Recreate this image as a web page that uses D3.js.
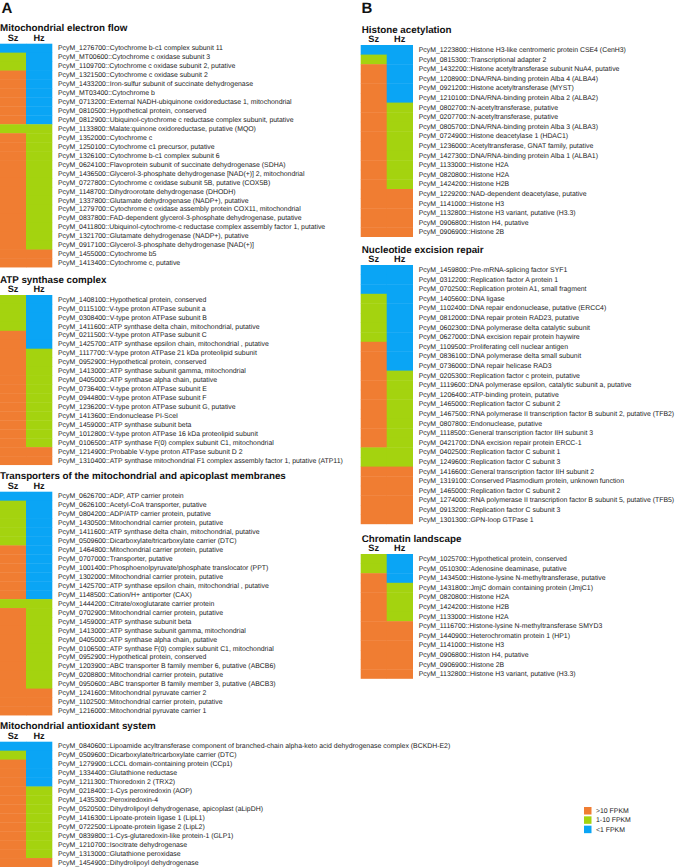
<!DOCTYPE html>
<html>
<head>
<meta charset="utf-8">
<script src="https://cdn.jsdelivr.net/npm/d3@7"></script>
<style>
html, body { margin: 0; padding: 0; background: #fff; }
svg { display: block; font-family: Arial, "Liberation Sans", Helvetica, sans-serif; text-rendering: geometricPrecision; }
</style>
</head>
<body>
<svg id="chart" width="677" height="868"></svg>
<script>
// Expression levels: 2 = >10 FPKM, 1 = 1-10 FPKM, 0 = <1 FPKM
var samples = ['Sz', 'Hz'];
var levelLabels = ['>10 FPKM', '1-10 FPKM', '<1 FPKM'];
var legendLevels = [2, 1, 0];

// --- A: Mitochondrial electron flow ---
var elecGenes = [
    'PcyM_1276700::Cytochrome b-c1 complex subunit 11',
    'PcyM_MT00600::Cytochrome c oxidase subunit 3',
    'PcyM_1109700::Cytochrome c oxidase subunit 2, putative',
    'PcyM_1321500::Cytochrome c oxidase subunit 2',
    'PcyM_1433200::Iron-sulfur subunit of succinate dehydrogenase',
    'PcyM_MT03400::Cytochrome b',
    'PcyM_0713200::External NADH-ubiquinone oxidoreductase 1, mitochondrial',
    'PcyM_0810500::Hypothetical protein, conserved',
    'PcyM_0812900::Ubiquinol-cytochrome c reductase complex subunit, putative',
    'PcyM_1133800::Malate:quinone oxidoreductase, putative (MQO)',
    'PcyM_1352000::Cytochrome c',
    'PcyM_1250100::Cytochrome c1 precursor, putative',
    'PcyM_1326100::Cytochrome b-c1 complex subunit 6',
    'PcyM_0624100::Flavoprotein subunit of succinate dehydrogenase (SDHA)',
    'PcyM_1436500::Glycerol-3-phosphate dehydrogenase [NAD(+)] 2, mitochondrial',
    'PcyM_0727800::Cytochrome c oxidase subunit 5B, putative (COX5B)',
    'PcyM_1148700::Dihydroorotate dehydrogenase (DHODH)',
    'PcyM_1337800::Glutamate dehydrogenase (NADP+), putative',
    'PcyM_1279700::Cytochrome c oxidase assembly protein COX11, mitochondrial',
    'PcyM_0837800::FAD-dependent glycerol-3-phosphate dehydrogenase, putative',
    'PcyM_0411800::Ubiquinol-cytochrome-c reductase complex assembly factor 1, putative',
    'PcyM_1321700::Glutamate dehydrogenase (NADP+), putative',
    'PcyM_0917100::Glycerol-3-phosphate dehydrogenase [NAD(+)]',
    'PcyM_1455000::Cytochrome b5',
    'PcyM_1413400::Cytochrome c, putative'
];
var elecSz = [0,1,1,2,2,2,2,2,2,1,2,2,2,2,2,2,2,2,2,2,2,2,2,2,2];
var elecHz = [0,0,0,0,0,0,0,0,0,1,1,1,1,1,1,1,1,1,1,1,1,1,1,2,2];

// --- A: ATP synthase complex ---
var atpGenes = [
    'PcyM_1408100::Hypothetical protein, conserved',
    'PcyM_0115100::V-type proton ATPase subunit a',
    'PcyM_0308400::V-type proton ATPase subunit B',
    'PcyM_1411600::ATP synthase delta chain, mitochondrial, putative',
    'PcyM_0211500::V-type proton ATPase subunit C',
    'PcyM_1425700::ATP synthase epsilon chain, mitochondrial , putative',
    'PcyM_1117700::V-type proton ATPase 21 kDa proteolipid subunit',
    'PcyM_0952900::Hypothetical protein, conserved',
    'PcyM_1413000::ATP synthase subunit gamma, mitochondrial',
    'PcyM_0405000::ATP synthase alpha chain, putative',
    'PcyM_0736400::V-type proton ATPase subunit E',
    'PcyM_0944800::V-type proton ATPase subunit F',
    'PcyM_1236200::V-type proton ATPase subunit G, putative',
    'PcyM_1413600::Endonuclease PI-SceI',
    'PcyM_1459000::ATP synthase subunit beta',
    'PcyM_1012800::V-type proton ATPase 16 kDa proteolipid subunit',
    'PcyM_0106500::ATP synthase F(0) complex subunit C1, mitochondrial',
    'PcyM_1214900::Probable V-type proton ATPase subunit D 2',
    'PcyM_1310400::ATP synthase mitochondrial F1 complex assembly factor 1, putative (ATP11)'
];
var atpSz = [1,1,1,1,2,2,2,2,2,2,2,2,2,2,2,2,2,2,2];
var atpHz = [0,0,0,0,0,0,1,1,1,1,1,1,1,1,1,1,1,2,2];

// --- A: Transporters ---
var trGenes = [
    'PcyM_0626700::ADP, ATP carrier protein',
    'PcyM_0626100::Acetyl-CoA transporter, putative',
    'PcyM_0804200::ADP/ATP carrier protein, putative',
    'PcyM_1430500::Mitochondrial carrier protein, putative',
    'PcyM_1411600::ATP synthase delta chain, mitochondrial, putative',
    'PcyM_0509600::Dicarboxylate/tricarboxylate carrier (DTC)',
    'PcyM_1464800::Mitochondrial carrier protein, putative',
    'PcyM_0707000::Transporter, putative',
    'PcyM_1001400::Phosphoenolpyruvate/phosphate translocator (PPT)',
    'PcyM_1302000::Mitochondrial carrier protein, putative',
    'PcyM_1425700::ATP synthase epsilon chain, mitochondrial , putative',
    'PcyM_1148500::Cation/H+ antiporter (CAX)',
    'PcyM_1444200::Citrate/oxoglutarate carrier protein',
    'PcyM_0702900::Mitochondrial carrier protein, putative',
    'PcyM_1459000::ATP synthase subunit beta',
    'PcyM_1413000::ATP synthase subunit gamma, mitochondrial',
    'PcyM_0405000::ATP synthase alpha chain, putative',
    'PcyM_0106500::ATP synthase F(0) complex subunit C1, mitochondrial',
    'PcyM_0952900::Hypothetical protein, conserved',
    'PcyM_1203900::ABC transporter B family member 6, putative (ABCB6)',
    'PcyM_0208800::Mitochondrial carrier protein, putative',
    'PcyM_0950600::ABC transporter B family member 3, putative (ABCB3)',
    'PcyM_1241600::Mitochondrial pyruvate carrier 2',
    'PcyM_1102500::Mitochondrial carrier protein, putative',
    'PcyM_1216000::Mitochondrial pyruvate carrier 1'
];
var trSz = [0,1,1,1,1,1,2,2,2,2,2,2,1,2,2,2,2,2,2,2,2,2,2,2,2];
var trHz = [0,0,0,0,0,0,0,0,0,0,0,0,1,1,1,1,1,1,1,1,1,1,2,2,2];

// --- A: Mitochondrial antioxidant system ---
var aoGenes = [
    'PcyM_0840600::Lipoamide acyltransferase component of branched-chain alpha-keto acid dehydrogenase complex (BCKDH-E2)',
    'PcyM_0509600::Dicarboxylate/tricarboxylate carrier (DTC)',
    'PcyM_1279900::LCCL domain-containing protein (CCp1)',
    'PcyM_1334400::Glutathione reductase',
    'PcyM_1211300::Thioredoxin 2 (TRX2)',
    'PcyM_0218400::1-Cys peroxiredoxin (AOP)',
    'PcyM_1435300::Peroxiredoxin-4',
    'PcyM_0520500::Dihydrolipoyl dehydrogenase, apicoplast (aLipDH)',
    'PcyM_1416300::Lipoate-protein ligase 1 (LipL1)',
    'PcyM_0722500::Lipoate-protein ligase 2 (LipL2)',
    'PcyM_0839800::1-Cys-glutaredoxin-like protein-1 (GLP1)',
    'PcyM_1210700::Isocitrate dehydrogenase',
    'PcyM_1313000::Glutathione peroxidase',
    'PcyM_1454900::Dihydrolipoyl dehydrogenase'
];
var aoSz = [0,1,2,2,2,2,2,2,2,2,2,2,2,2];
var aoHz = [0,0,0,0,0,1,1,1,1,1,1,1,1,2];

// --- B: Histone acetylation ---
var haGenes = [
    'PcyM_1223800::Histone H3-like centromeric protein CSE4 (CenH3)',
    'PcyM_0815300::Transcriptional adapter 2',
    'PcyM_1432200::Histone acetyltransferase subunit NuA4, putative',
    'PcyM_1208900::DNA/RNA-binding protein Alba 4 (ALBA4)',
    'PcyM_0921200::Histone acetyltransferase (MYST)',
    'PcyM_1210100::DNA/RNA-binding protein Alba 2 (ALBA2)',
    'PcyM_0802700::N-acetyltransferase, putative',
    'PcyM_0207700::N-acetyltransferase, putative',
    'PcyM_0805700::DNA/RNA-binding protein Alba 3 (ALBA3)',
    'PcyM_0724900::Histone deacetylase 1 (HDAC1)',
    'PcyM_1236000::Acetyltransferase, GNAT family, putative',
    'PcyM_1427300::DNA/RNA-binding protein Alba 1 (ALBA1)',
    'PcyM_1133000::Histone H2A',
    'PcyM_0820800::Histone H2A',
    'PcyM_1424200::Histone H2B',
    'PcyM_1229200::NAD-dependent deacetylase, putative',
    'PcyM_1141000::Histone H3',
    'PcyM_1132800::Histone H3 variant, putative (H3.3)',
    'PcyM_0906800::Histon H4, putative',
    'PcyM_0906900::Histone 2B'
];
var haSz = [0,1,2,2,2,2,2,2,2,2,2,2,2,2,2,2,2,2,2,2];
var haHz = [0,0,0,0,0,0,1,1,1,1,1,1,1,1,1,2,2,2,2,2];

// --- B: Nucleotide excision repair ---
var nerGenes = [
    'PcyM_1459800::Pre-mRNA-splicing factor SYF1',
    'PcyM_0312200::Replication factor A protein 1',
    'PcyM_0702500::Replication protein A1, small fragment',
    'PcyM_1405600::DNA ligase',
    'PcyM_1102400::DNA repair endonuclease, putative (ERCC4)',
    'PcyM_0812000::DNA repair protein RAD23, putative',
    'PcyM_0602300::DNA polymerase delta catalytic subunit',
    'PcyM_0627000::DNA excision repair protein haywire',
    'PcyM_1109500::Proliferating cell nuclear antigen',
    'PcyM_0836100::DNA polymerase delta small subunit',
    'PcyM_0736000::DNA repair helicase RAD3',
    'PcyM_0205300::Replication factor c protein, putative',
    'PcyM_1119600::DNA polymerase epsilon, catalytic subunit a, putative',
    'PcyM_1206400::ATP-binding protein, putative',
    'PcyM_1465000::Replication factor C subunit 2',
    'PcyM_1467500::RNA polymerase II transcription factor B subunit 2, putative (TFB2)',
    'PcyM_0807800::Endonuclease, putative',
    'PcyM_1118500::General transcription factor IIH subunit 3',
    'PcyM_0421700::DNA excision repair protein ERCC-1',
    'PcyM_0402500::Replication factor C subunit 1',
    'PcyM_1249600::Replication factor C subunit 3',
    'PcyM_1416600::General transcription factor IIH subunit 2',
    'PcyM_1319100::Conserved Plasmodium protein, unknown function',
    'PcyM_1465000::Replication factor C subunit 2',
    'PcyM_1274000::RNA polymerase II transcription factor B subunit 5, putative (TFB5)',
    'PcyM_0913200::Replication factor C subunit 3',
    'PcyM_1301300::GPN-loop GTPase 1'
];
var nerSz = [0,0,0,1,1,1,1,1,2,2,2,2,2,2,2,2,2,2,2,1,1,2,2,2,2,2,2];
var nerHz = [0,0,0,0,0,0,0,0,0,0,0,1,1,1,1,1,1,1,1,1,1,2,2,2,2,2,2];

// --- B: Chromatin landscape ---
var chGenes = [
    'PcyM_1025700::Hypothetical protein, conserved',
    'PcyM_0510300::Adenosine deaminase, putative',
    'PcyM_1434500::Histone-lysine N-methyltransferase, putative',
    'PcyM_1431800::JmjC domain containing protein (JmjC1)',
    'PcyM_0820800::Histone H2A',
    'PcyM_1424200::Histone H2B',
    'PcyM_1133000::Histone H2A',
    'PcyM_1116700::Histone-lysine N-methyltransferase SMYD3',
    'PcyM_1440900::Heterochromatin protein 1 (HP1)',
    'PcyM_1141000::Histone H3',
    'PcyM_0906800::Histon H4, putative',
    'PcyM_0906900::Histone 2B',
    'PcyM_1132800::Histone H3 variant, putative (H3.3)'
];
var chSz = [1,1,2,2,2,2,2,2,2,2,2,2,2];
var chHz = [0,0,0,1,1,1,1,2,2,2,2,2,2];

// layout of the blocks (left panel rows are a bit tighter than right panel)
var blocks = [
    { title: 'Mitochondrial electron flow', genes: elecGenes, sz: elecSz, hz: elecHz, x: 0, top: 43.7, step: 8.95 },
    { title: 'ATP synthase complex', genes: atpGenes, sz: atpSz, hz: atpHz, x: 0, top: 295, step: 8.95 },
    { title: 'Transporters of the mitochondrial and apicoplast membranes', genes: trGenes, sz: trSz, hz: trHz, x: 0, top: 491.7, step: 8.95 },
    { title: 'Mitochondrial antioxidant system', genes: aoGenes, sz: aoSz, hz: aoHz, x: 0, top: 741.7, step: 8.95 },
    { title: 'Histone acetylation', genes: haGenes, sz: haSz, hz: haHz, x: 360.7, top: 45, step: 9.6 },
    { title: 'Nucleotide excision repair', genes: nerGenes, sz: nerSz, hz: nerHz, x: 360.7, top: 265, step: 9.6 },
    { title: 'Chromatin landscape', genes: chGenes, sz: chSz, hz: chHz, x: 360.7, top: 554, step: 9.6 }
];

var color = d3.scaleOrdinal()
    .domain([2, 1, 0])
    .range(['#F07D32', '#A4D30F', '#0AA5F5']);

var svg = d3.select('#chart');

function drawBlock(b) {
    var n = b.genes.length;
    var g = svg.append('g').attr('transform', 'translate(' + b.x + ',' + b.top + ')');

    var x = d3.scaleBand().domain(samples).range([0, 52]);
    // genes may repeat (same id twice), so index the rows
    var y = d3.scaleBand().domain(d3.range(n)).range([0, n * b.step]);

    var cells = [];
    b.genes.forEach(function (name, i) {
        cells.push({ s: 'Sz', i: i, v: b.sz[i] });
        cells.push({ s: 'Hz', i: i, v: b.hz[i] });
    });

    g.append('g').selectAll('rect')
        .data(cells)
        .join('rect')
        .attr('x', function (d) { return x(d.s); })
        .attr('y', function (d) { return y(d.i); })
        .attr('width', x.bandwidth() + 0.3)
        .attr('height', function (d) { return y.bandwidth() + (d.i < n - 1 ? 0.4 : 0); })
        .attr('fill', function (d) { return color(d.v); });

    // gene labels
    var ax = g.append('g')
        .attr('transform', 'translate(52,0)')
        .call(d3.axisRight(y).tickSize(0).tickPadding(6)
            .tickFormat(function (i) { return b.genes[i]; }));
    ax.select('.domain').remove();
    ax.selectAll('text')
        .attr('font-size', '6.9px')
        .attr('font-family', 'Arial, "Liberation Sans", sans-serif')
        .attr('fill', '#1a1a1a');

    // column header
    var hx = g.append('g')
        .call(d3.axisTop(x).tickSize(0).tickPadding(3));
    hx.select('.domain').remove();
    hx.selectAll('text')
        .attr('font-size', '9.2px')
        .attr('font-weight', 'bold')
        .attr('font-family', 'Arial, "Liberation Sans", sans-serif')
        .attr('fill', '#111');

    g.append('text')
        .attr('x', b.x > 0 ? 1 : 0)
        .attr('y', -12.3)
        .attr('font-size', '9.8px')
        .attr('font-weight', 'bold')
        .attr('fill', '#111')
        .text(b.title);
}

blocks.forEach(drawBlock);

// panel letters
svg.append('text').attr('x', 1.5).attr('y', 13).attr('font-size', '15px')
    .attr('font-weight', 'bold').attr('fill', '#111').text('A');
svg.append('text').attr('x', 361.5).attr('y', 13).attr('font-size', '15px')
    .attr('font-weight', 'bold').attr('fill', '#111').text('B');

// legend
var ly = d3.scaleBand().domain(legendLevels).range([806, 834]);
var legend = svg.append('g');
legend.selectAll('rect')
    .data(legendLevels)
    .join('rect')
    .attr('x', 584)
    .attr('y', function (d) { return ly(d) + 1; })
    .attr('width', 7.5)
    .attr('height', 7.5)
    .attr('fill', function (d) { return color(d); });
legend.selectAll('text')
    .data(legendLevels)
    .join('text')
    .attr('x', 596)
    .attr('y', function (d) { return ly(d) + ly.bandwidth() / 2; })
    .attr('dy', '0.35em')
    .attr('font-size', '6.9px')
    .attr('fill', '#1a1a1a')
    .text(function (d, i) { return levelLabels[i]; });
</script>
</body>
</html>
